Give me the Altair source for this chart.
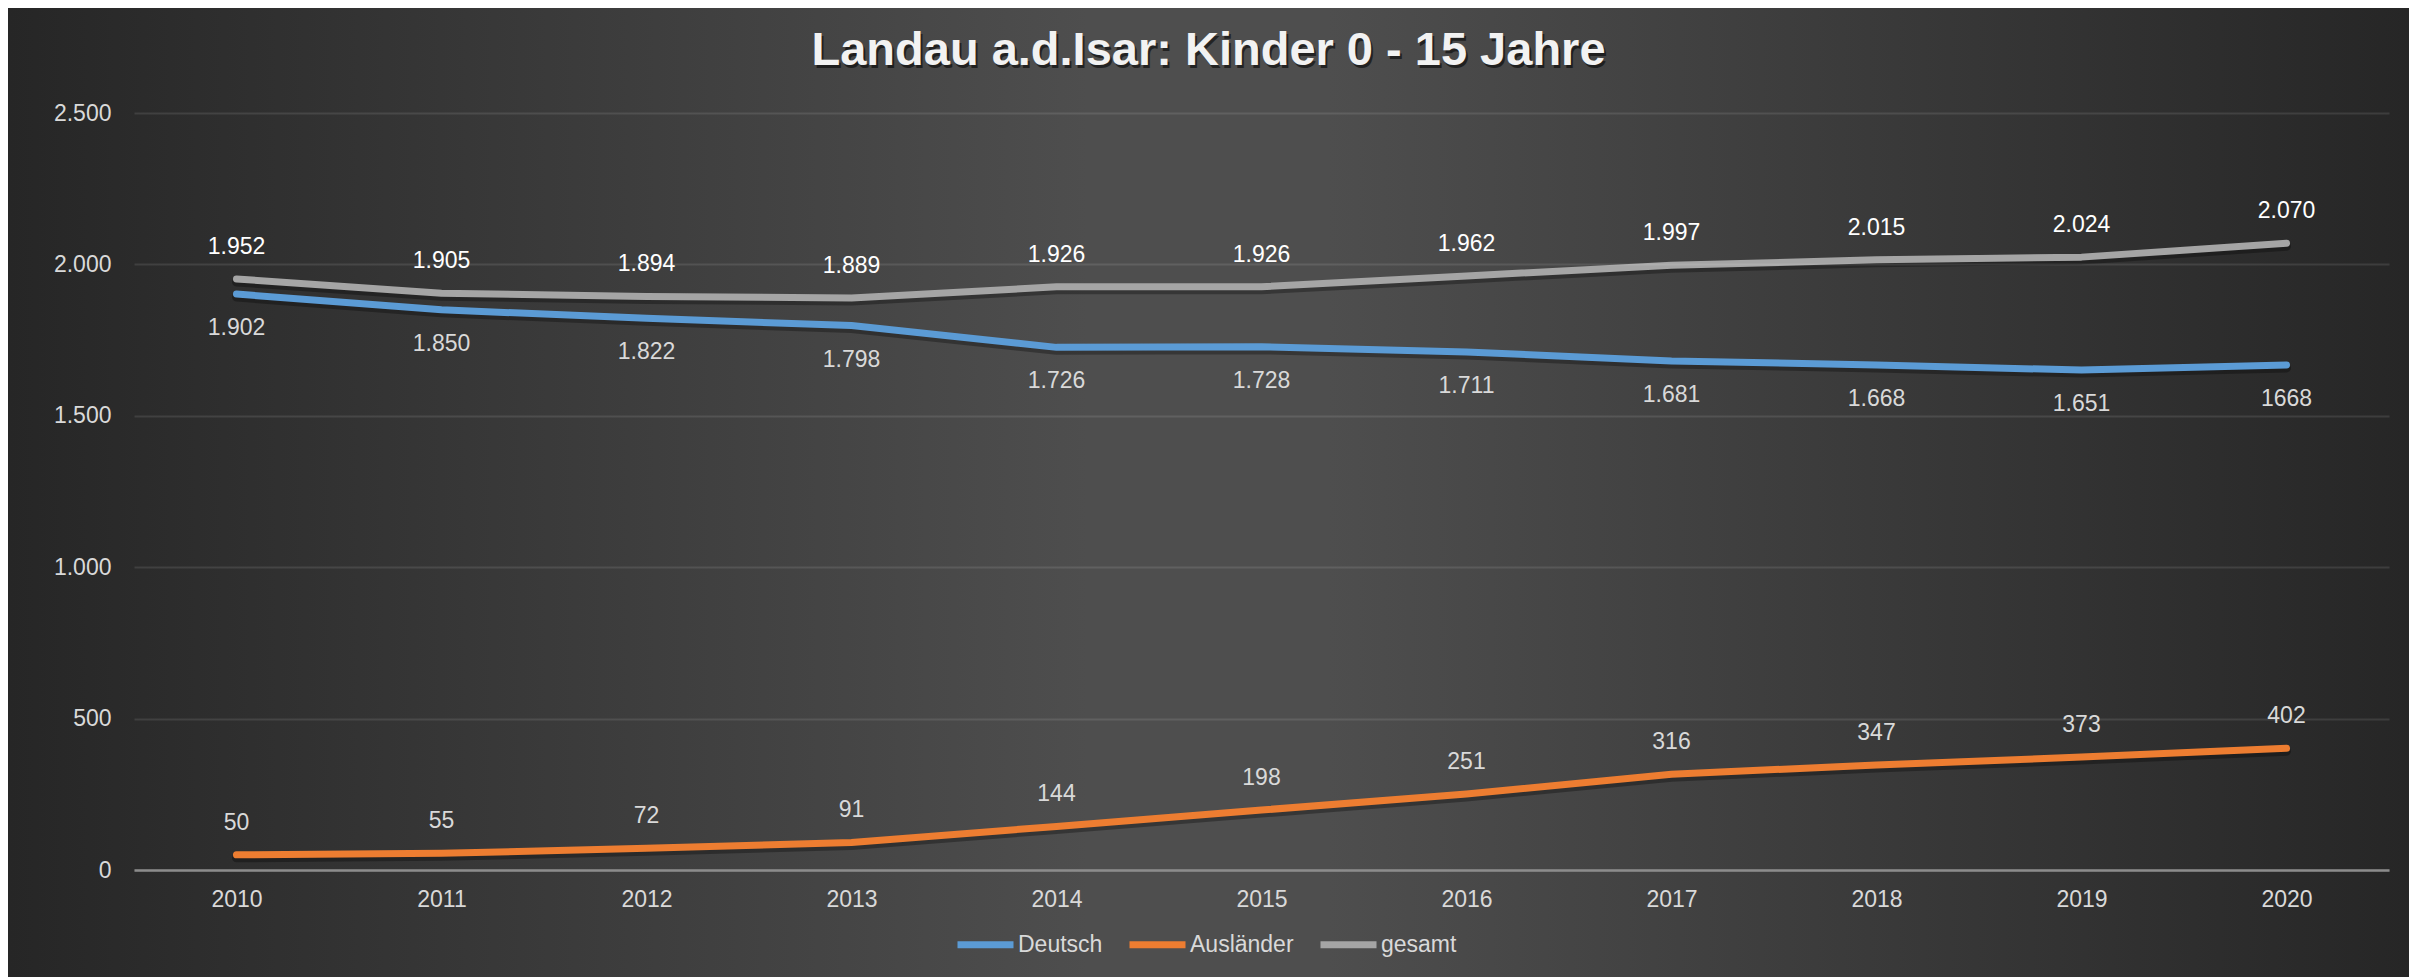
import altair as alt
import pandas as pd

years = ["2010", "2011", "2012", "2013", "2014", "2015", "2016", "2017", "2018", "2019", "2020"]
deutsch = [1902, 1850, 1822, 1798, 1726, 1728, 1711, 1681, 1668, 1651, 1668]
auslaender = [50, 55, 72, 91, 144, 198, 251, 316, 347, 373, 402]
gesamt = [1952, 1905, 1894, 1889, 1926, 1926, 1962, 1997, 2015, 2024, 2070]
deutsch_labels = ["1.902", "1.850", "1.822", "1.798", "1.726", "1.728", "1.711", "1.681", "1.668", "1.651", "1668"]
auslaender_labels = ["50", "55", "72", "91", "144", "198", "251", "316", "347", "373", "402"]
gesamt_labels = ["1.952", "1.905", "1.894", "1.889", "1.926", "1.926", "1.962", "1.997", "2.015", "2.024", "2.070"]
series_names = ["Deutsch", "Ausländer", "gesamt"]
series_colors = ["#5b9bd5", "#ed7d31", "#a5a5a5"]
title_text = "Landau a.d.Isar: Kinder 0 - 15 Jahre"
y_ticks = [0, 500, 1000, 1500, 2000, 2500]

rows = []
for name, vals, labs in zip(series_names, [deutsch, auslaender, gesamt],
                            [deutsch_labels, auslaender_labels, gesamt_labels]):
    for yr, v, lab in zip(years, vals, labs):
        rows.append({"year": yr, "series": name, "value": v, "label": lab})
df = pd.DataFrame(rows)

W, H = 2255, 757
PL, PT, PR, PB = 126, 105, 20, 113
FONT = "Liberation Sans"

x_enc = alt.X("year:O", scale=alt.Scale(type="point", padding=0.5),
              axis=alt.Axis(title=None, labelAngle=0, ticks=False, tickSize=0,
                            labelPadding=18, labelFont=FONT, labelFontSize=23,
                            labelColor="#d9d9d9", domain=True, domainColor="#8c8c8c",
                            domainWidth=2.5, grid=False, zindex=1))
y_enc = alt.Y("value:Q", scale=alt.Scale(domain=[0, 2500], nice=False),
              axis=alt.Axis(title=None, values=y_ticks, ticks=False, tickSize=0,
                            labelPadding=23, labelFont=FONT, labelFontSize=23,
                            labelColor="#d9d9d9", domain=False, grid=True,
                            gridColor="#ffffff", gridOpacity=0.1, gridWidth=2,
                            labelExpr="replace(format(datum.value, ','), ',', '.')",
                            minExtent=100, maxExtent=100, zindex=1))

bg_data = pd.DataFrame({"k": [0]})
background = alt.Chart(bg_data).mark_rect(
    fill=alt.LinearGradient(gradient="linear", x1=0, x2=1, y1=0, y2=0,
                            stops=[alt.GradientStop(color="#262626", offset=0),
                                   alt.GradientStop(color="#4e4e4e", offset=0.45),
                                   alt.GradientStop(color="#4e4e4e", offset=0.55),
                                   alt.GradientStop(color="#262626", offset=1)])
).encode(x=alt.value(-PL), x2=alt.value(W + PR), y=alt.value(-PT), y2=alt.value(H + PB))

base = alt.Chart(df)

shadow = base.mark_line(color="black", opacity=0.3, strokeWidth=9, yOffset=3,
                        strokeCap="round", strokeJoin="round").encode(
    x=x_enc, y=y_enc, detail="series:N")

lines = base.mark_line(strokeWidth=7, strokeCap="round", strokeJoin="round").encode(
    x=x_enc, y=y_enc,
    color=alt.Color("series:N",
                    scale=alt.Scale(domain=series_names, range=series_colors),
                    legend=alt.Legend(title=None, orient="none", legendX=820, legendY=800,
                                      direction="horizontal", symbolType="stroke",
                                      symbolSize=3136, symbolStrokeWidth=7,
                                      labelFont=FONT, labelFontSize=23, labelColor="#d9d9d9",
                                      labelOffset=1, columnPadding=12, padding=0)),
)

lbl_g = base.transform_filter(alt.datum.series == "gesamt").mark_text(
    font=FONT, fontSize=23, color="#ffffff", dy=-32, baseline="middle").encode(
    x=x_enc, y=y_enc, text="label:N")
lbl_d = base.transform_filter(alt.datum.series == "Deutsch").mark_text(
    font=FONT, fontSize=23, color="#d9d9d9", dy=34, baseline="middle").encode(
    x=x_enc, y=y_enc, text="label:N")
lbl_a = base.transform_filter(alt.datum.series == "Ausländer").mark_text(
    font=FONT, fontSize=23, color="#d9d9d9", dy=-32, baseline="middle").encode(
    x=x_enc, y=y_enc, text="label:N")

t_data = pd.DataFrame({"t": [title_text]})
title_shadow = alt.Chart(t_data).mark_text(
    font=FONT, fontWeight="bold", fontSize=47, color="black", opacity=0.55,
    align="center", baseline="alphabetic").encode(
    x=alt.value(1074.5 + 2), y=alt.value(-47.7 + 3), text="t:N")
title = alt.Chart(t_data).mark_text(
    font=FONT, fontWeight="bold", fontSize=47, color="#f2f2f2",
    align="center", baseline="alphabetic").encode(
    x=alt.value(1074.5), y=alt.value(-47.7), text="t:N")

chart = alt.layer(background, shadow, lines, lbl_g, lbl_d, lbl_a, title_shadow, title).properties(
    width=W, height=H,
    autosize=alt.AutoSizeParams(type="none"),
    padding={"left": PL, "top": PT, "right": PR, "bottom": PB},
    background="#262626",
).configure_view(stroke=None)

chart.save("out.html", embed_options={"renderer": "svg", "actions": False})
